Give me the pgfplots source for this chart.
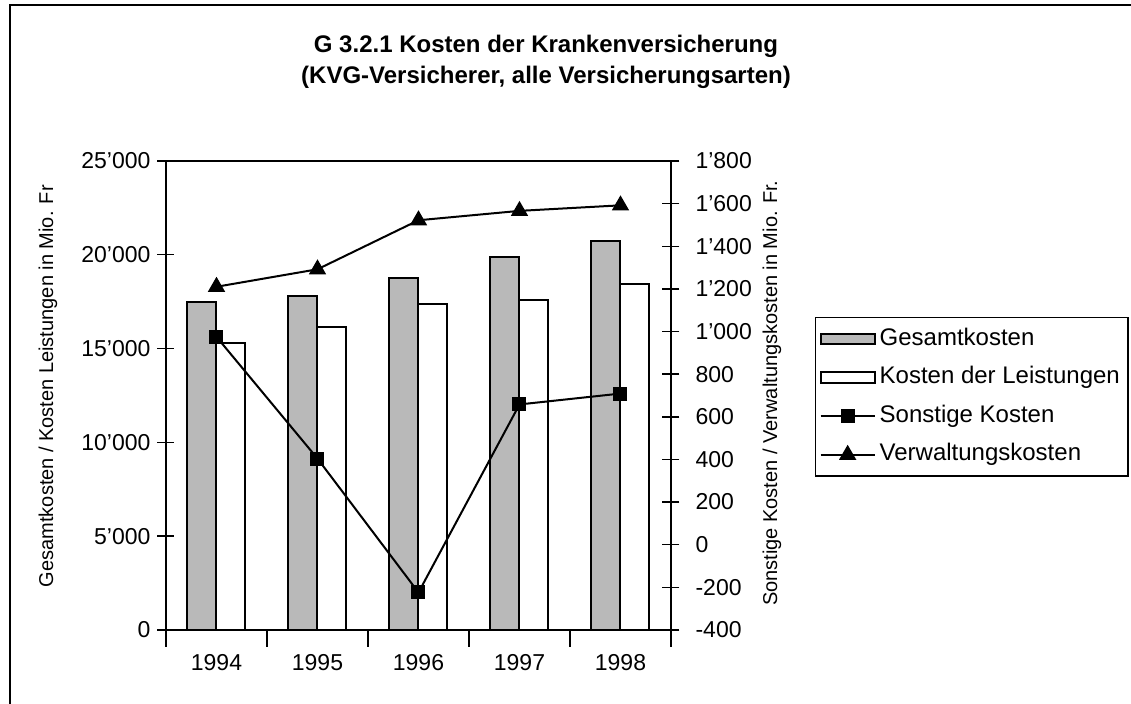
\documentclass[border=0pt]{standalone}
\usepackage{fontspec}
\setmainfont{Liberation Sans}
\usepackage{pgfplots}
\pgfplotsset{compat=1.18}

\definecolor{gkfill}{RGB}{185,185,185}

\pgfplotsset{
  kvg/.style={
    scale only axis, width=252.5pt, height=234.5pt,
    xmin=-0.5, xmax=4.5,
    tick align=center, major tick length=8.5pt, minor tick length=8.5pt,
    axis line style={line width=0.8pt},
    every tick/.style={black, line width=0.7pt},
    scaled y ticks=false,
    /pgf/number format/assume math mode=true,
    /pgf/number format/1000 sep={’},
    tick label style={font=\fontsize{11.5}{13}\selectfont},
    label style={font=\fontsize{10.8}{13}\selectfont},
  },
  barlegend/.style={legend image code/.code={%
    \draw[##1] (0pt,-2.6pt) rectangle (27pt,2.6pt);}},
  linelegend/.style={legend image code/.code={%
    \draw[mark repeat=2, mark phase=2, ##1] plot coordinates {(0pt,0pt) (13.5pt,0pt) (27pt,0pt)};}},
}

\begin{document}
\begin{tikzpicture}
\useasboundingbox (-83pt,-37pt) rectangle (482.5pt,315pt);
\clip (-83pt,-37pt) rectangle (482.5pt,315pt);
\draw[line width=0.75pt] (-78pt,-45pt) rectangle (486pt,312.5pt);

\begin{axis}[kvg,
  ybar=0pt, bar width=14.5pt,
  ymin=0, ymax=25000, ytick={0,5000,...,25000},
  ytick pos=left, xtick pos=lower,
  xtick={0,1,2,3,4}, xticklabels={1994,1995,1996,1997,1998},
  major x tick style={draw=none},
  minor xtick={-0.5,0.5,1.5,2.5,3.5,4.5},
  ylabel={Gesamtkosten / Kosten Leistungen in Mio. Fr},
  every axis y label/.style={at={(rel axis cs:-0.2337,0.52)}, rotate=90, anchor=center},
]
\addplot[fill=gkfill, draw=black, line width=1pt]
  coordinates {(0,17500) (1,17800) (2,18760) (3,19870) (4,20740)};
\addplot[fill=white, draw=black, line width=1pt]
  coordinates {(0,15320) (1,16140) (2,17360) (3,17580) (4,18430)};
\end{axis}

\begin{axis}[kvg,
  ymin=-400, ymax=1800, ytick={-400,-200,...,1800},
  axis y line*=right, axis x line=none,
  yticklabel style={xshift=4.5pt},
  ylabel={Sonstige Kosten / Verwaltungskosten in Mio. Fr.},
  every axis y label/.style={at={(rel axis cs:1.2,0.505)}, rotate=90, anchor=center},
  legend style={at={(1.2851,0.6674)}, anchor=north west, draw=black, line width=0.7pt,
    font=\fontsize{12}{13}\selectfont, cells={anchor=west},
    nodes={inner sep=2pt, text height=8.7pt, text depth=2.6pt},
    inner xsep=2pt, inner ysep=3pt, row sep=4pt},
]
\addlegendimage{barlegend, fill=gkfill, draw=black, line width=1pt}
\addlegendentry{Gesamtkosten}
\addlegendimage{barlegend, fill=white, draw=black, line width=1pt}
\addlegendentry{Kosten der Leistungen}
\addplot[black, line width=1pt, mark=square*, mark size=3pt, linelegend]
  coordinates {(0,975) (1,404) (2,-224) (3,658) (4,709)};
\addlegendentry{Sonstige Kosten}
\addplot[black, line width=1pt, mark=triangle*, mark size=4pt, linelegend]
  coordinates {(0,1210) (1,1292) (2,1522) (3,1566) (4,1592)};
\addlegendentry{Verwaltungskosten}
\end{axis}

\node[align=center, font=\bfseries\fontsize{12}{15.5}\selectfont] at (190pt,284pt)
  {G 3.2.1 Kosten der Krankenversicherung\\(KVG-Versicherer, alle Versicherungsarten)};
\end{tikzpicture}
\end{document}
